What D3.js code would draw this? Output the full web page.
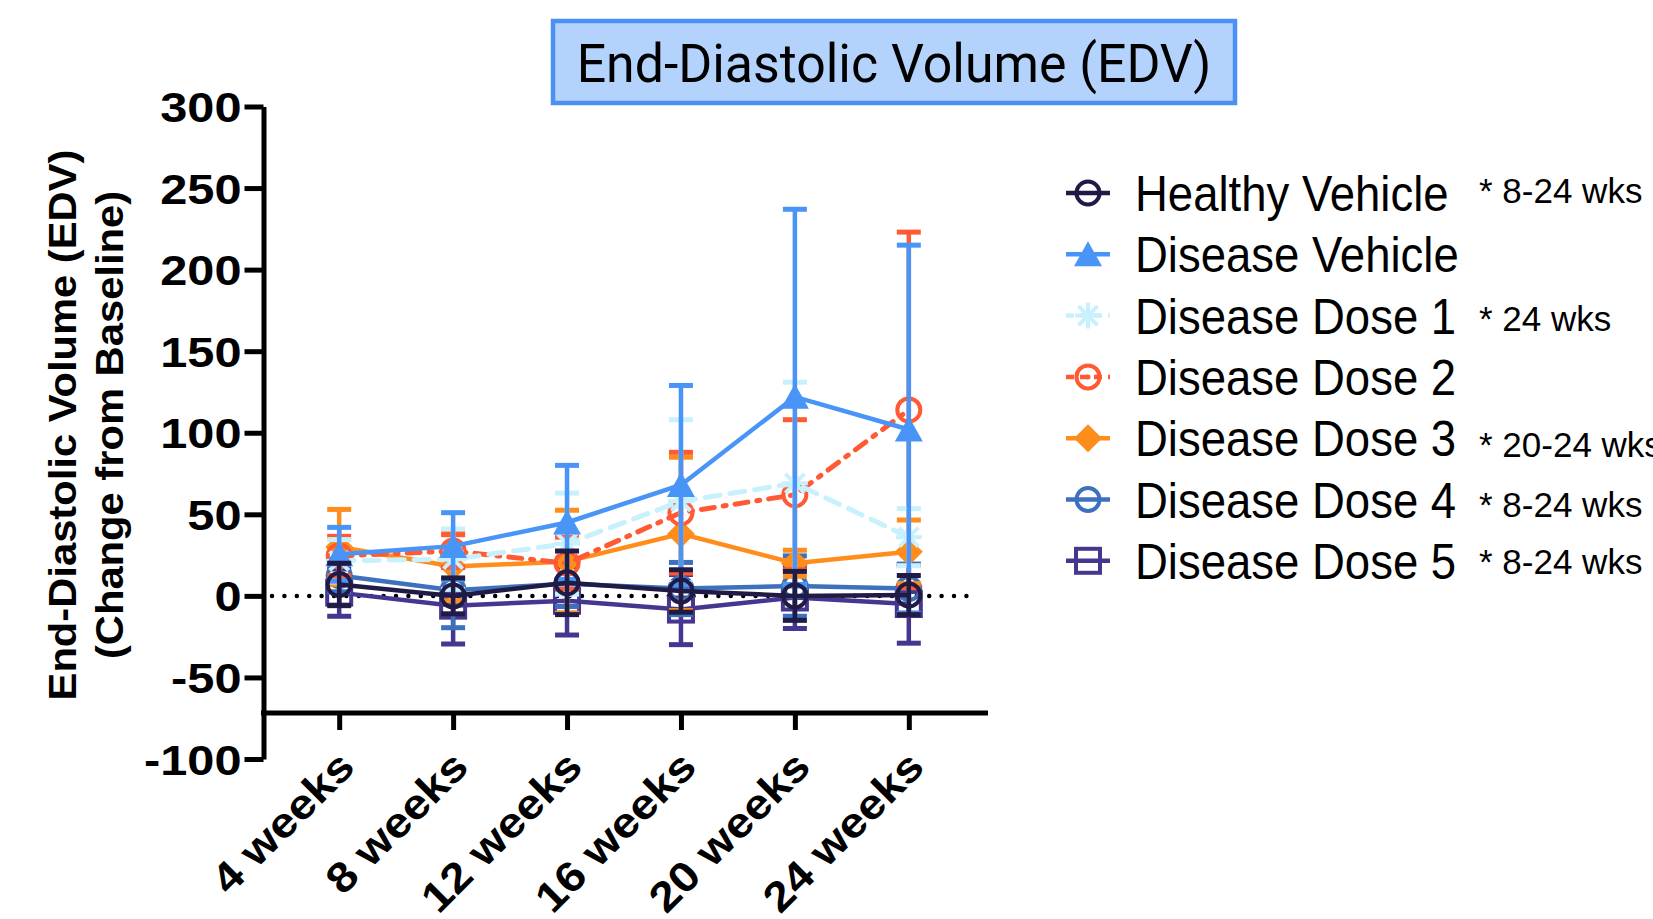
<!DOCTYPE html>
<meta charset="utf-8">
<html>
<head>
<title>End-Diastolic Volume (EDV)</title>
<script src="https://d3js.org/d3.v7.min.js"></script>
<style>
  body { margin: 0; background: #fff; }
  text { font-family: "Liberation Sans", Arial, sans-serif; fill: #000; }
</style>
</head>
<body>
<div id="chart"></div>
<script>
// ---- data (mean and error per time point) ----
var weeks = ["4 weeks", "8 weeks", "12 weeks", "16 weeks", "20 weeks", "24 weeks"];
var yTicks = [-100, -50, 0, 50, 100, 150, 200, 250, 300];

var healthyVehicle    = [7, 0, 8, 3, 0, 0.5];
var healthyVehicleErr = [13, 11, 19.5, 13, 15, 12];
var diseaseVehicle    = [25.5, 30.5, 45, 68, 122, 102];
var diseaseVehicleErr = [16.5, 20.5, 35, 61, 115, 113];
var dose1    = [21.5, 22.5, 32, 58, 69, 36];
var dose1Err = [13, 18.5, 31, 50, 62, 17.5];
var dose2    = [24.5, 27.5, 20, 51, 62, 114];
var dose2Err = [12, 10, 16, 37, 46, 109];
var dose3    = [30, 18, 21, 38, 20, 27];
var dose3Err = [23, 21, 31.5, 47, 8, 19.5];
var dose4    = [12.5, 3.5, 7.5, 4.5, 6, 4.5];
var dose4Err = [10, 23, 14, 16, 18.5, 15];
var dose5    = [2, -6, -3, -8.4, -1, -5];
var dose5Err = [14.5, 23.5, 21, 21.5, 19, 24];

var seriesNames  = ["Healthy Vehicle", "Disease Vehicle", "Disease Dose 1", "Disease Dose 2",
                    "Disease Dose 3", "Disease Dose 4", "Disease Dose 5"];
var seriesNotes  = ["* 8-24 wks", "", "* 24 wks", "", "* 20-24 wks", "* 8-24 wks", "* 8-24 wks"];
var seriesColors = ["#201b45", "#4894f7", "#c8f0fd", "#ff5a33", "#ff8d1c", "#3d71be", "#46368f"];
var seriesShapes = ["circle", "triangle", "asterisk", "circleDot", "diamond", "circle", "square"];
var seriesDash   = [null, null, "15 10", "13 9 3 9", null, null, null];
var seriesMeans  = [healthyVehicle, diseaseVehicle, dose1, dose2, dose3, dose4, dose5];
var seriesErrs   = [healthyVehicleErr, diseaseVehicleErr, dose1Err, dose2Err, dose3Err, dose4Err, dose5Err];

var series = seriesNames.map(function (n, i) {
  return {
    name: n, note: seriesNotes[i], color: seriesColors[i], shape: seriesShapes[i], dash: seriesDash[i],
    points: weeks.map(function (w, j) { return { week: w, mean: seriesMeans[i][j], err: seriesErrs[i][j] }; })
  };
});

// ---- layout ----
var W = 1653, H = 919;
var svg = d3.select("#chart").append("svg").attr("width", W).attr("height", H);

var y = d3.scaleLinear().domain([-100, 300]).range([759, 106.5]);
var x = d3.scalePoint().domain(weeks).range([264, 984]).padding(0.66);
var axisX = 263.5, axisY = 713;

// title box
svg.append("rect")
  .attr("x", 553).attr("y", 21).attr("width", 682).attr("height", 82)
  .attr("fill", "#b4d3fc").attr("stroke", "#4b90f5").attr("stroke-width", 4.5);
var title = svg.append("text")
  .attr("text-anchor", "middle")
  .style("font-family", "Roboto, 'Liberation Sans', sans-serif")
  .style("font-size", "54px")
  .text("End-Diastolic Volume (EDV)");
var tk = 635 / title.node().getComputedTextLength();
title.attr("transform", "translate(894,82) scale(" + tk + ",1)");

// zero line
svg.append("line")
  .attr("x1", 272).attr("x2", 978).attr("y1", y(0)).attr("y2", y(0))
  .attr("stroke", "#000").attr("stroke-width", 4.5)
  .attr("stroke-linecap", "round").attr("stroke-dasharray", "0 12.4");

// y axis
var gy = svg.append("g").attr("transform", "translate(" + axisX + ",0)")
  .call(d3.axisLeft(y).tickValues(yTicks).tickSize(19).tickSizeOuter(0)
    .tickFormat(function (d) { return String(d); }));
gy.select(".domain").attr("stroke-width", 5);
gy.selectAll(".tick line").attr("stroke-width", 5);
gy.selectAll(".tick text")
  .attr("x", null).attr("dy", "0.36em")
  .attr("transform", "translate(-22,0) scale(1.16,1)")
  .style("font-size", "42px").style("font-weight", "bold");

// x axis
svg.append("line")
  .attr("x1", axisX - 2.5).attr("x2", 988).attr("y1", axisY).attr("y2", axisY)
  .attr("stroke", "#000").attr("stroke-width", 5);
var gx = svg.append("g").attr("transform", "translate(0," + axisY + ")")
  .call(d3.axisBottom(x).tickSize(17).tickSizeOuter(0));
gx.select(".domain").remove();
gx.selectAll(".tick line").attr("stroke-width", 5);
gx.selectAll(".tick text")
  .attr("x", null).attr("y", null).attr("dy", null)
  .attr("text-anchor", "end")
  .attr("transform", "translate(17,56) rotate(-45) scale(1.12,1)")
  .style("font-size", "42px").style("font-weight", "bold");

// y axis title
svg.selectAll("ytitle")
  .data(["End-Diastolic Volume (EDV)", "(Change from Baseline)"])
  .enter()
  .append("text")
    .attr("text-anchor", "middle")
    .attr("transform", function (d, i) { return "translate(" + (76 + i * 47) + ",425) rotate(-90) scale(1.07,1)"; })
    .style("font-size", "39px").style("font-weight", "bold")
    .text(function (d) { return d; });

// ---- marker drawing ----
function drawMarker(g, shape, color, cx, cy, legend) {
  if (shape === "circle" || shape === "circleDot") {
    g.append("circle").attr("cx", cx).attr("cy", cy).attr("r", 11.5)
      .attr("fill", "none").attr("stroke", color).attr("stroke-width", 4);
    if (shape === "circleDot" && legend) {
      g.append("circle").attr("cx", cx).attr("cy", cy).attr("r", 2.5).attr("fill", color);
    }
  } else if (shape === "square") {
    g.append("rect").attr("x", cx - 12).attr("y", cy - 12).attr("width", 24).attr("height", 24)
      .attr("fill", "none").attr("stroke", color).attr("stroke-width", 4);
  } else if (shape === "triangle") {
    g.append("path")
      .attr("d", "M" + cx + "," + (cy - 13) + "L" + (cx + 14) + "," + (cy + 12) + "L" + (cx - 14) + "," + (cy + 12) + "Z")
      .attr("fill", color);
  } else if (shape === "diamond") {
    g.append("path")
      .attr("d", "M" + cx + "," + (cy - 14) + "L" + (cx + 14) + "," + cy + "L" + cx + "," + (cy + 14) + "L" + (cx - 14) + "," + cy + "Z")
      .attr("fill", color);
  } else if (shape === "asterisk") {
    var r = 13, d = 9.5;
    g.append("path")
      .attr("d", "M" + cx + "," + (cy - r) + "V" + (cy + r) +
                 "M" + (cx - r) + "," + cy + "H" + (cx + r) +
                 "M" + (cx - d) + "," + (cy - d) + "L" + (cx + d) + "," + (cy + d) +
                 "M" + (cx - d) + "," + (cy + d) + "L" + (cx + d) + "," + (cy - d))
      .attr("stroke", color).attr("stroke-width", 4).attr("fill", "none");
  }
}

// ---- series, last listed drawn first so Healthy Vehicle sits on top ----
var line = d3.line().x(function (d) { return x(d.week); }).y(function (d) { return y(d.mean); });

series.slice().reverse().forEach(function (s) {
  var g = svg.append("g");
  // error bars
  s.points.forEach(function (p) {
    var px = x(p.week);
    g.append("line").attr("x1", px).attr("x2", px)
      .attr("y1", y(p.mean - p.err)).attr("y2", y(p.mean + p.err))
      .attr("stroke", s.color).attr("stroke-width", 4.5);
    [p.mean - p.err, p.mean + p.err].forEach(function (v) {
      g.append("line").attr("x1", px - 12).attr("x2", px + 12)
        .attr("y1", y(v)).attr("y2", y(v))
        .attr("stroke", s.color).attr("stroke-width", 5);
    });
  });
  // connecting line
  g.append("path").datum(s.points)
    .attr("d", line).attr("fill", "none")
    .attr("stroke", s.color).attr("stroke-width", s.dash ? 5 : 4.5)
    .attr("stroke-dasharray", s.dash)
    .attr("stroke-linecap", s.dash ? "round" : "butt");
  // markers
  s.points.forEach(function (p) { drawMarker(g, s.shape, s.color, x(p.week), y(p.mean), false); });
});

// ---- legend ----
var rowY0 = 193, rowStep = 61.3;
var noteDy = [-3, 0, 2, 0, 6, 4, 0];
series.forEach(function (s, i) {
  var cy = rowY0 + i * rowStep;
  var g = svg.append("g");
  g.append("line").attr("x1", 1066).attr("x2", 1110).attr("y1", cy).attr("y2", cy)
    .attr("stroke", s.color).attr("stroke-width", 4.5)
    .attr("stroke-dasharray", s.dash ? "8 6" : null);
  drawMarker(g, s.shape, s.color, 1088, cy, true);
  g.append("text")
    .attr("transform", "translate(1135," + (cy + 18) + ") scale(0.91,1)")
    .style("font-size", "50px")
    .text(s.name);
  if (s.note) {
    g.append("text")
      .attr("transform", "translate(1479," + (cy + 13 + noteDy[i]) + ")")
      .style("font-size", "35px")
      .text(s.note);
  }
});
</script>
</body>
</html>
